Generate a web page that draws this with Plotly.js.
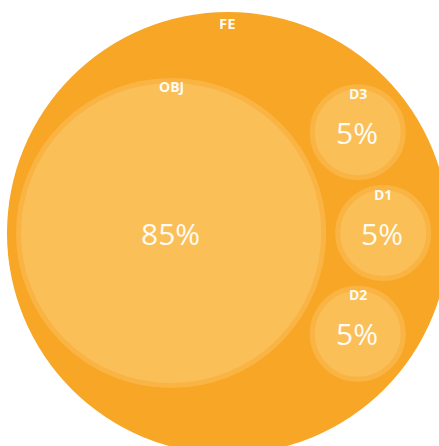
<!DOCTYPE html>
<html>
<head>
<meta charset="utf-8">
<script src="https://cdn.plot.ly/plotly-3.0.1.min.js"></script>
<style>html,body{margin:0;padding:0;background:#fff;}#chart{width:439px;height:446px;}</style>
</head>
<body>
<div id="chart"></div>
<script>
// ---- data ----
const labels  = ['FE', 'OBJ', 'D3', 'D1', 'D2'];
const parents = ['',   'FE',  'FE', 'FE', 'FE'];
const values  = [100,  85,    5,    5,    5];

// ---- styling / layout constants ----
const W = 439, H = 446;
const ROOT = {cx: 228, cy: 233, r: 221};
const SMALL_R = 48, EXP = 0.414, PAD = 9, GAP_BIG = 9, GAP_SMALL = 8, RING = 5;
const COL_ROOT = '#F7A626', COL_RING = '#F9B443', COL_FILL = '#FBBF58';
const FONT = '"Open Sans", "Noto Sans", sans-serif';
const TXT = 'rgba(255,255,255,0.95)';

// ---- packing ----
const rootIdx = parents.indexOf('');
const kids = labels.map((l, i) => i).filter(i => parents[i] === labels[rootIdx]);
const minV = Math.min(...kids.map(i => values[i]));
const rOf = v => SMALL_R * Math.pow(v / minV, EXP);
const bigIdx = kids.reduce((a, b) => values[b] > values[a] ? b : a);
const smalls = kids.filter(i => i !== bigIdx);

const circ = {};
circ[rootIdx] = {cx: ROOT.cx, cy: ROOT.cy, r: ROOT.r};
const rBig = rOf(values[bigIdx]);
circ[bigIdx] = {cx: ROOT.cx - ROOT.r + PAD + rBig, cy: ROOT.cy, r: rBig};
smalls.forEach((i, k) => {
  const rs = rOf(values[i]);
  const dist = rBig + GAP_BIG + rs;
  const step = 2 * Math.asin((2 * rs + GAP_SMALL) / (2 * dist));
  const ang = (k - (smalls.length - 1) / 2) * step;
  circ[i] = {cx: circ[bigIdx].cx + dist * Math.cos(ang), cy: circ[bigIdx].cy + dist * Math.sin(ang), r: rs};
});

const shapes = [];
const annotations = [];
labels.forEach((lab, i) => {
  const c = circ[i];
  if (i === rootIdx) {
    shapes.push({type: 'circle', xref: 'x', yref: 'y', x0: c.cx - c.r, x1: c.cx + c.r, y0: c.cy - c.r, y1: c.cy + c.r,
      fillcolor: COL_ROOT, line: {width: 0}, layer: 'below'});
    annotations.push({x: c.cx - 1, y: c.cy - c.r + 11, text: '<b>' + lab + '</b>', showarrow: false,
      font: {family: FONT, size: 15, color: TXT}, xanchor: 'center', yanchor: 'middle'});
  } else {
    const rr = c.r - RING / 2;
    shapes.push({type: 'circle', xref: 'x', yref: 'y', x0: c.cx - rr, x1: c.cx + rr, y0: c.cy - rr, y1: c.cy + rr,
      fillcolor: COL_FILL, line: {width: RING, color: COL_RING}, layer: 'below'});
    annotations.push({x: c.cx, y: c.cy - c.r + 9, text: '<b>' + lab + '</b>', showarrow: false,
      font: {family: FONT, size: 14, color: TXT}, xanchor: 'center', yanchor: 'middle'});
    const pct = Math.round(values[i] / values[rootIdx] * 100) + '%';
    annotations.push({x: c.cx - 1, y: c.cy, text: pct, showarrow: false,
      font: {family: FONT, size: 30, color: TXT}, xanchor: 'center', yanchor: 'middle'});
  }
});

Plotly.newPlot('chart', [{x: [], y: [], type: 'scatter', mode: 'markers', hoverinfo: 'skip'}], {
  width: W, height: H,
  margin: {l: 0, r: 0, t: 0, b: 0},
  paper_bgcolor: '#fff', plot_bgcolor: '#fff',
  xaxis: {range: [0, W], visible: false, fixedrange: true},
  yaxis: {range: [H, 0], visible: false, fixedrange: true},
  showlegend: false,
  shapes: shapes,
  annotations: annotations
}, {displayModeBar: false, staticPlot: true});
</script>
</body>
</html>
